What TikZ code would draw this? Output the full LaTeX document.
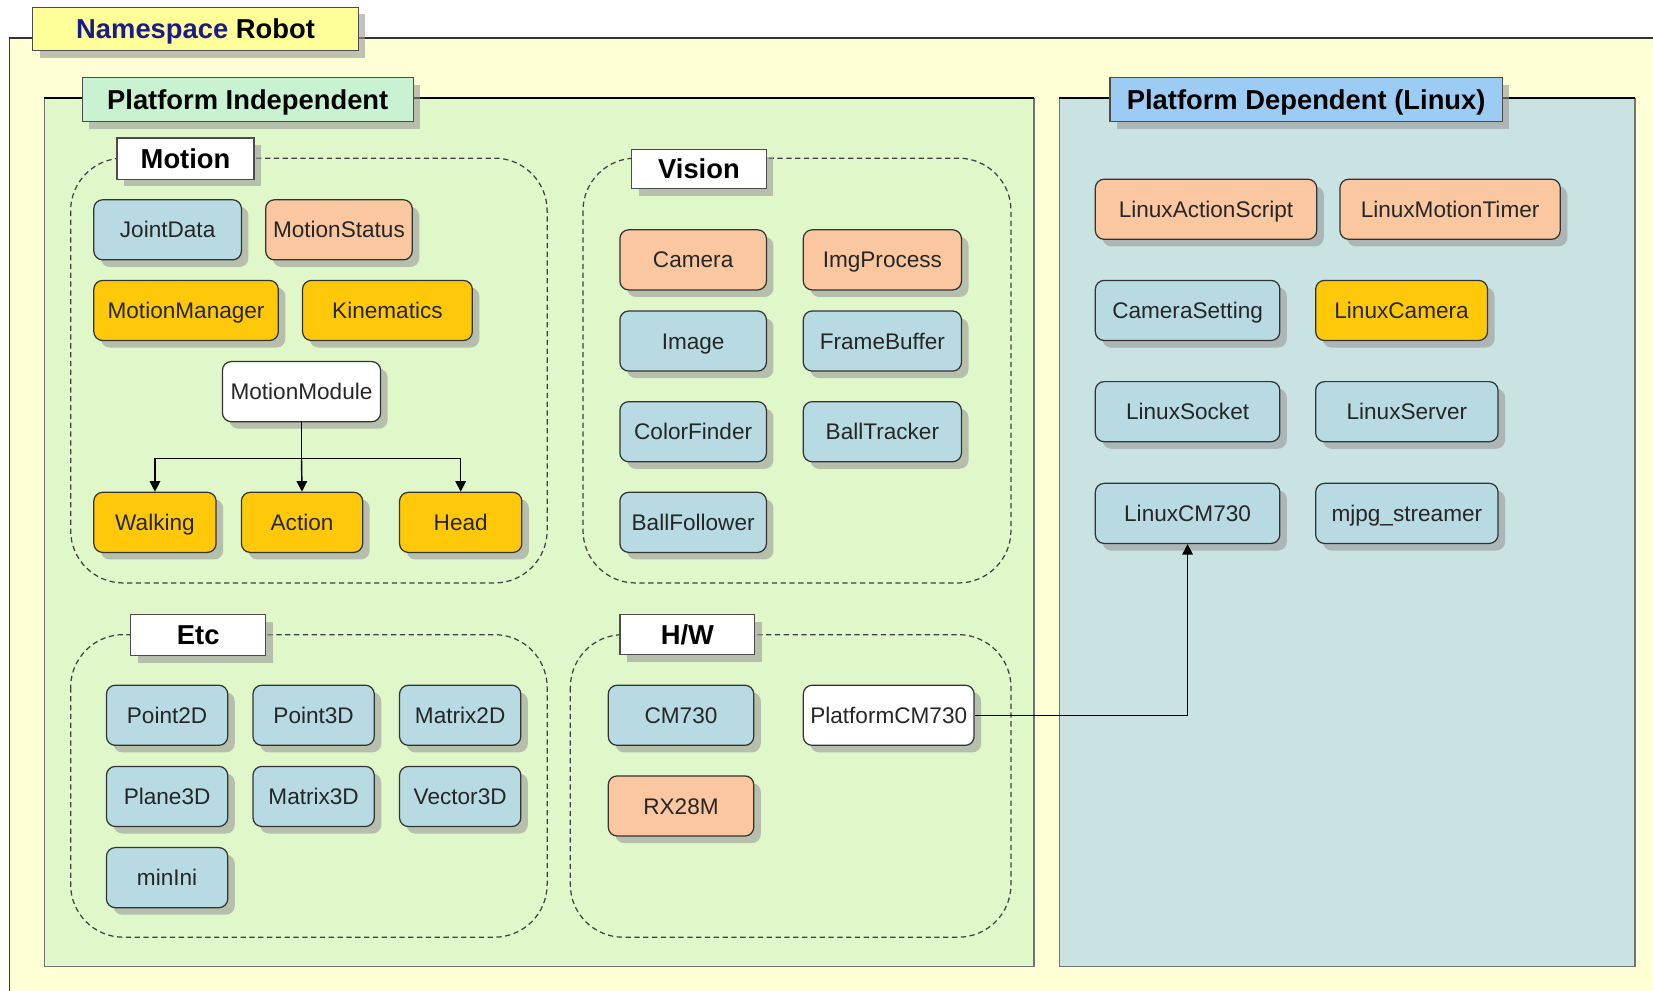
\documentclass[tikz,border=0pt]{standalone}
\usepackage{fontspec}
\setmainfont{Liberation Sans}
\usetikzlibrary{shadows,arrows.meta}
\definecolor{bgyellow}{HTML}{FFFFD6}
\definecolor{nslabel}{HTML}{FFFF99}
\definecolor{nsblue}{HTML}{1A1A8C}
\definecolor{pigreen}{HTML}{E0F8C9}
\definecolor{pilabel}{HTML}{C8F2D2}
\definecolor{pdblue}{HTML}{C9E2E2}
\definecolor{pdlabel}{HTML}{9CCCF4}
\definecolor{clsblue}{HTML}{B7DAE3}
\definecolor{clsorange}{HTML}{FBC7A1}
\definecolor{clsgold}{HTML}{FFC90A}
\newcommand{\uu}{0.021cm}
\tikzset{
  shad/.style={drop shadow={shadow xshift=4pt,shadow yshift=-4pt,fill=black!40,opacity=0.6}},
  cls/.style={draw=black!80,line width=0.7pt,rounded corners=5pt,shad,text=black!85,
    font=\fontsize{12.8}{14}\selectfont,inner sep=0pt,minimum height=57*\uu,
    text height=10pt,text depth=0.8pt},
  cblue/.style={cls,fill=clsblue},
  corange/.style={cls,fill=clsorange},
  cgold/.style={cls,fill=clsgold},
  cwhite/.style={cls,fill=white},
  grplabel/.style={draw=black!70,line width=0.7pt,fill=white,shad,inner sep=0pt,
    font=\fontsize{15.5}{17}\bfseries\selectfont,text height=12pt,text depth=0.9pt},
  bigl/.style={draw=black!70,line width=0.7pt,shad,inner sep=0pt,
    font=\fontsize{15.5}{17}\bfseries\selectfont,minimum height=42*\uu,
    text height=12pt,text depth=0.9pt},
  grp/.style={draw=black!75,line width=0.7pt,dash pattern=on 3pt off 2pt,rounded corners=1.05cm},
  conn/.style={draw=black,line width=0.8pt},
  arr/.style={conn,-{Triangle[length=6pt,width=6pt]}}
}
\begin{document}
\begin{tikzpicture}[x=0.021cm,y=-0.021cm]
\useasboundingbox (0,0) rectangle (1568,940);
% outer namespace frame
\fill[bgyellow] (9,36) rectangle (1568,940);
\draw[black!80,line width=0.8pt] (9,940) -- (9,36) -- (1568,36);
\node[bigl,fill=nslabel,minimum width=309*\uu,minimum height=41*\uu] (ns) at (185.5,27.5) {{\color{nsblue}Namespace} Robot};

% platform independent
\fill[pigreen] (42,93) rectangle (981,917);
\draw[black!55,line width=0.8pt] (981,93) -- (981,917) -- (42,917) -- (42,93);
\draw[black,line width=0.8pt] (42,93) -- (981,93);
\node[bigl,fill=pilabel,minimum width=314*\uu] (pi) at (235,94.5) {Platform Independent};

% platform dependent
\fill[pdblue] (1005,93) rectangle (1551,917);
\draw[black!55,line width=0.8pt] (1551,93) -- (1551,917) -- (1005,917) -- (1005,93);
\draw[black,line width=0.8pt] (1005,93) -- (1551,93);
\node[bigl,fill=pdlabel,minimum width=372*\uu] (pd) at (1239,94.5) {Platform Dependent (Linux)};

% groups
\draw[grp] (67,150) rectangle (519,553);
\draw[grp] (553,150) rectangle (959,553);
\draw[grp] (67,602) rectangle (519,889);
\draw[grp] (541,602) rectangle (959,889);
\node[grplabel,minimum width=130*\uu,minimum height=39*\uu] (gmotion) at (176,150.5) {Motion};
\node[grplabel,minimum width=128*\uu,minimum height=37*\uu] (gvision) at (663,160.5) {Vision};
\node[grplabel,minimum width=128*\uu,minimum height=39*\uu] (getc) at (188,602.5) {Etc};
\node[grplabel,minimum width=128*\uu,minimum height=38*\uu] (ghw) at (652,602) {H/W};

% Motion
\node[cblue,minimum width=140*\uu] (jd) at (159,218) {JointData};
\node[corange,minimum width=139*\uu] (ms) at (321.5,218) {MotionStatus};
\node[cgold,minimum width=175*\uu] (mman) at (176.5,294.5) {MotionManager};
\node[cgold,minimum width=161*\uu] (kin) at (367.5,294.5) {Kinematics};
\node[cwhite,minimum width=150*\uu] (mmod) at (286,371.5) {MotionModule};
\node[cgold,minimum width=116*\uu] (walk) at (147,495.5) {Walking};
\node[cgold,minimum width=115*\uu] (act) at (286.5,495.5) {Action};
\node[cgold,minimum width=116*\uu] (head) at (437,495.5) {Head};
\coordinate (split) at (286,435);
\draw[conn] (mmod.south) -- (split);
\draw[arr] (split) -| (walk.north);
\draw[arr] (split) -- (act.north);
\draw[arr] (split) -| (head.north);

% Vision
\node[corange,minimum width=139*\uu] (cam) at (657.5,246.5) {Camera};
\node[corange,minimum width=150*\uu] (img) at (837,246.5) {ImgProcess};
\node[cblue,minimum width=139*\uu] (image) at (657.5,323.5) {Image};
\node[cblue,minimum width=150*\uu] (fb) at (837,323.5) {FrameBuffer};
\node[cblue,minimum width=139*\uu] (cf) at (657.5,409.5) {ColorFinder};
\node[cblue,minimum width=150*\uu] (bt) at (837,409.5) {BallTracker};
\node[cblue,minimum width=139*\uu] (bf) at (657.5,495.5) {BallFollower};

% Etc
\node[cblue,minimum width=115*\uu] (p2) at (158.5,678.5) {Point2D};
\node[cblue,minimum width=115*\uu] (p3) at (297.5,678.5) {Point3D};
\node[cblue,minimum width=115*\uu] (m2) at (436.5,678.5) {Matrix2D};
\node[cblue,minimum width=115*\uu] (pl3) at (158.5,755.5) {Plane3D};
\node[cblue,minimum width=115*\uu] (m3) at (297.5,755.5) {Matrix3D};
\node[cblue,minimum width=115*\uu] (v3) at (436.5,755.5) {Vector3D};
\node[cblue,minimum width=115*\uu] (mini) at (158.5,832.5) {minIni};

% H/W
\node[cblue,minimum width=138*\uu] (cm) at (646,678.5) {CM730};
\node[cwhite,minimum width=162*\uu] (pcm) at (843,678.5) {PlatformCM730};
\node[corange,minimum width=138*\uu] (rx) at (646,764.5) {RX28M};

% Linux
\node[corange,minimum width=210*\uu] (las) at (1144,198.5) {LinuxActionScript};
\node[corange,minimum width=209*\uu] (lmt) at (1375.5,198.5) {LinuxMotionTimer};
\node[cblue,minimum width=175*\uu] (cs) at (1126.5,294.5) {CameraSetting};
\node[cgold,minimum width=163*\uu] (lc) at (1329.5,294.5) {LinuxCamera};
\node[cblue,minimum width=175*\uu] (ls) at (1126.5,390.5) {LinuxSocket};
\node[cblue,minimum width=173*\uu] (lsv) at (1334.5,390.5) {LinuxServer};
\node[cblue,minimum width=175*\uu] (lcm) at (1126.5,487) {LinuxCM730};
\node[cblue,minimum width=173*\uu] (mj) at (1334.5,487) {mjpg\_streamer};

\draw[arr] (pcm.east) -| (lcm.south);
\end{tikzpicture}
\end{document}
